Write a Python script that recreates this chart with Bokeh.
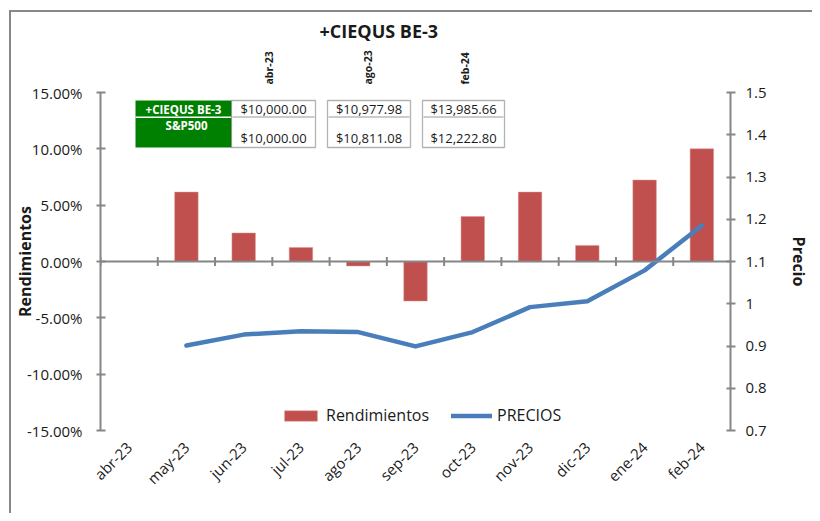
import math
from bokeh.plotting import figure
from bokeh.models import (Range1d, LinearAxis, NumeralTickFormatter, FixedTicker,
                          Span, Label, BoxAnnotation, Legend, LegendItem, ColumnDataSource, Title)
from bokeh.embed import file_html
from bokeh.resources import INLINE

NaN = float("nan")

# ---------------- data ----------------
months = ["abr-23", "may-23", "jun-23", "jul-23", "ago-23", "sep-23",
          "oct-23", "nov-23", "dic-23", "ene-24", "feb-24"]
rendimientos = [NaN, 0.0616, 0.0253, 0.0125, -0.0040, -0.0351, 0.0399, 0.0616, 0.0143, 0.0723, 0.1000]
precios = [NaN, 0.901, 0.927, 0.935, 0.933, 0.899, 0.933, 0.992, 1.006, 1.079, 1.185]

left_ticks = [-0.15, -0.10, -0.05, 0.0, 0.05, 0.10, 0.15]
right_ticks = [0.7, 0.8, 0.9, 1.0, 1.1, 1.2, 1.3, 1.4, 1.5]

title_text = "+CIEQUS BE-3"
table_dates = ["abr-23", "ago-23", "feb-24"]
table_rows = ["+CIEQUS BE-3", "S&P500"]
fund_values = ["$10,000.00", "$10,977.98", "$13,985.66"]
sp500_values = ["$10,000.00", "$10,811.08", "$12,222.80"]

# ---------------- layout constants ----------------
W, H = 812, 513
FL, FT = 100, 92
FR, FB = W - 737, H - 430
FONT = "Open Sans"
TXT = "#1a1a1a"
AX = "#868686"

idx = list(range(len(months)))   # category slots

p = figure(width=W, height=H, x_range=Range1d(-0.5, len(months) - 0.5), y_range=Range1d(-0.15, 0.15),
           output_backend="svg", toolbar_location=None,
           min_border_left=FL, min_border_right=FR, min_border_top=FT, min_border_bottom=FB)
p.outline_line_color = None
p.grid.visible = False
p.background_fill_color = "white"
p.border_fill_alpha = 0
p.extra_y_ranges = {"precio": Range1d(0.7, 1.5)}
p.extra_x_ranges = {"page": Range1d(FL, W - FR)}
# chart-area border (top and left edges), drawn behind the transparent canvas border
p.styles = {"background": "linear-gradient(#888888,#888888) 9px 10px / 2px 100% no-repeat, "
                          "linear-gradient(#888888,#888888) 9px 10px / 100% 2px no-repeat, white"}

# page coords -> frame-relative screen coords (origin frame bottom-left, y up)
def sx(xp):
    return xp - FL
def sy(yp):
    return (H - FB) - yp

# left axis
ya = p.yaxis[0]
ya.ticker = FixedTicker(ticks=left_ticks)
ya.formatter = NumeralTickFormatter(format="0.00%")
ya.axis_line_color = AX
ya.axis_line_width = 2
ya.major_tick_line_color = AX
ya.major_tick_line_width = 2
ya.major_tick_in = 5
ya.major_tick_out = 4
ya.minor_tick_line_color = None
ya.major_label_text_font = FONT
ya.major_label_text_font_size = "15px"
ya.major_label_text_color = TXT
ya.major_label_standoff = 14
ya.axis_label = "Rendimientos"
ya.axis_label_text_font = FONT
ya.axis_label_text_font_style = "bold"
ya.axis_label_text_font_size = "16px"
ya.axis_label_text_color = TXT
ya.axis_label_standoff = -12

# right axis
ra = LinearAxis(y_range_name="precio", ticker=FixedTicker(ticks=right_ticks),
                formatter=NumeralTickFormatter(format="0.[0]"))
ra.axis_line_color = AX
ra.axis_line_width = 2
ra.major_tick_line_color = AX
ra.major_tick_line_width = 2
ra.major_tick_in = 4
ra.major_tick_out = 5
ra.minor_tick_line_color = None
ra.major_label_text_font = FONT
ra.major_label_text_font_size = "15px"
ra.major_label_text_color = TXT
ra.major_label_standoff = 10
ra.axis_label = "Precio"
ra.axis_label_text_font = FONT
ra.axis_label_text_font_style = "bold"
ra.axis_label_text_font_size = "16px"
ra.axis_label_text_color = TXT
ra.axis_label_standoff = 18
p.add_layout(ra, "right")

# bottom category axis (labels only)
xa = p.xaxis[0]
xa.ticker = FixedTicker(ticks=idx)
xa.major_label_overrides = {i: m for i, m in zip(idx, months)}
xa.axis_line_color = None
xa.major_tick_line_color = None
xa.minor_tick_line_color = None
xa.major_label_orientation = math.pi / 4
xa.major_label_text_font = FONT
xa.major_label_text_font_size = "15px"
xa.major_label_text_color = TXT
xa.major_label_standoff = 8

# header labels of the value table (above the frame)
header_x = [270, 370, 469]
ha = LinearAxis(x_range_name="page", ticker=FixedTicker(ticks=header_x),
                major_label_overrides={hx: d for hx, d in zip(header_x, table_dates)})
ha.axis_line_color = None
ha.major_tick_line_color = None
ha.minor_tick_line_color = None
ha.major_label_orientation = "vertical"
ha.major_label_text_font = FONT
ha.major_label_text_font_style = "bold"
ha.major_label_text_font_size = "10.5px"
ha.major_label_text_color = TXT
ha.major_label_standoff = 2
p.add_layout(ha, "above")

# title
p.add_layout(Title(text=title_text, align="left", offset=219, text_font=FONT,
                   text_font_style="bold", text_font_size="18px", text_color=TXT,
                   standoff=10), "above")

# zero line with category tick marks at slot boundaries
p.add_layout(Span(location=0, dimension="width", line_color=AX, line_width=2))
src = ColumnDataSource(dict(x=idx, m=months, r=rendimientos, pr=precios,
                            edge=[i - 0.5 for i in idx]))
p.segment(x0="edge", x1="edge", y0=-0.004, y1=0.004, source=src, line_color=AX, line_width=2)

bars = p.vbar(x="x", top="r", bottom=0, width=0.41, source=src,
              fill_color="#C0504D", line_color="#D99694", line_width=0.5)
line = p.line(x="x", y="pr", source=src, y_range_name="precio",
              line_color="#4A7EBB", line_width=4.5, line_cap="round", line_join="round")

# legend (kept inside the frame, at its bottom)
legend = Legend(items=[LegendItem(label="Rendimientos", renderers=[bars]),
                       LegendItem(label="PRECIOS", renderers=[line])],
                orientation="horizontal", location=(180, 4),
                glyph_width=41, glyph_height=13, label_standoff=5, spacing=22,
                padding=0, margin=0, label_height=13,
                label_text_font=FONT, label_text_font_size="16px", label_text_color=TXT,
                background_fill_alpha=0, border_line_color=None)
p.add_layout(legend, "center")

# value table (inside the frame)
def box(x0, x1, y0, y1, fill, line_color, lw):
    p.add_layout(BoxAnnotation(left=sx(x0), right=sx(x1), top=sy(y0), bottom=sy(y1),
                               left_units="screen", right_units="screen", top_units="screen", bottom_units="screen",
                               fill_color=fill, fill_alpha=1.0, line_color=line_color, line_width=lw))

def lab(x, y, t, size, color, bold=False):
    p.add_layout(Label(x=sx(x), y=sy(y), x_units="screen", y_units="screen", text=t,
                       text_font=FONT, text_font_style="bold" if bold else "normal",
                       text_font_size=size, text_align="center", text_baseline="middle", text_color=color))

box(135, 231, 100, 147, "#008000", None, 0)
box(135, 231, 116, 117.5, "white", None, 0)
lab(183, 108.5, table_rows[0], "11.5px", "white", bold=True)
lab(186, 124.5, table_rows[1], "11.5px", "white", bold=True)

col_x = [(231, 315), (327, 410), (422, 504)]
for i in range(3):
    x0, x1 = col_x[i]
    box(x0, x1, 100, 147, "white", "black", 1.3)
    box(x0 + 1, x1 - 1, 116, 117, "#9a9a9a", None, 0)
    lab((x0 + x1) / 2, 108.5, fund_values[i], "13px", TXT)
    lab((x0 + x1) / 2, 137, sp500_values[i], "13px", TXT)

open("out.html", "w").write(file_html(p, INLINE))
